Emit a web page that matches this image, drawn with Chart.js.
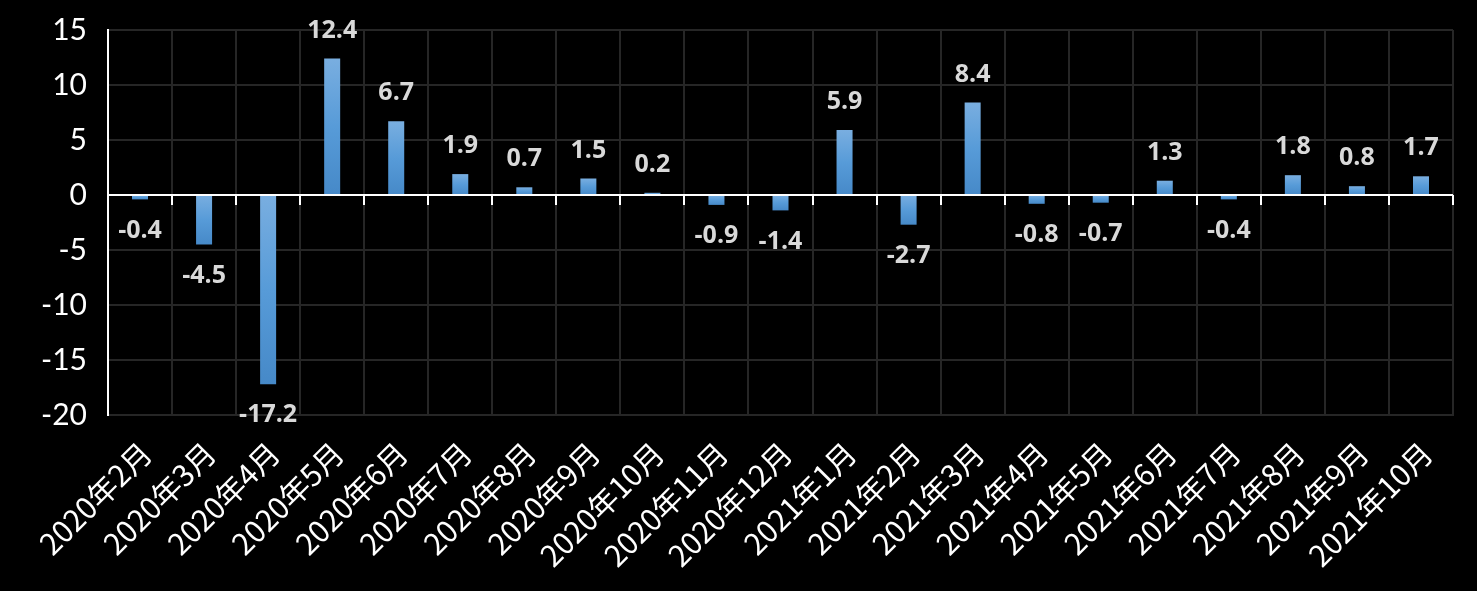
<!DOCTYPE html>
<html>
<head>
<meta charset="utf-8">
<script src="https://cdn.jsdelivr.net/npm/chart.js@4/dist/chart.umd.min.js"></script>
<style>
  html, body { margin: 0; padding: 0; background: #000; }
  #wrap { width: 1477px; height: 591px; position: relative; }
</style>
</head>
<body>
<div id="wrap"><canvas id="c"></canvas></div>
<script>
// month labels and month-on-month values
var months = ['2020年2月', '2020年3月', '2020年4月', '2020年5月', '2020年6月', '2020年7月', '2020年8月',
  '2020年9月', '2020年10月', '2020年11月', '2020年12月', '2021年1月', '2021年2月', '2021年3月',
  '2021年4月', '2021年5月', '2021年6月', '2021年7月', '2021年8月', '2021年9月', '2021年10月'];
var values = [-0.4, -4.5, -17.2, 12.4, 6.7, 1.9, 0.7, 1.5, 0.2, -0.9, -1.4, 5.9, -2.7, 8.4,
  -0.8, -0.7, 1.3, -0.4, 1.8, 0.8, 1.7];
var yMin = -20, yMax = 15, yStep = 5;

var gridCol = '#262626';

function barFill(ctx) {
  var chart = ctx.chart;
  if (!chart.chartArea) return '#5b9bd5';
  var y = chart.scales.y;
  var v = ctx.raw;
  var top = y.getPixelForValue(Math.max(v, 0));
  var bot = y.getPixelForValue(Math.min(v, 0));
  if (bot - top < 1) bot = top + 1;
  var g = chart.ctx.createLinearGradient(0, top, 0, bot);
  g.addColorStop(0, '#79aee0');
  g.addColorStop(0.5, '#579bd8');
  g.addColorStop(1, '#4689c8');
  return g;
}

// zero line with little tick marks, and the value labels
var overlay = {
  id: 'overlay',
  afterDatasetsDraw: function(chart) {
    var c = chart.ctx, y = chart.scales.y, area = chart.chartArea;
    var y0 = y.getPixelForValue(0);
    c.save();
    c.strokeStyle = '#ffffff';
    c.lineWidth = 2;
    c.beginPath();
    c.moveTo(area.left, y0);
    c.lineTo(area.right, y0);
    var step = (area.right - area.left) / months.length;
    for (var i = 1; i <= months.length; i++) {
      var px = Math.round(area.left + step * i);
      c.moveTo(px, y0);
      c.lineTo(px, y0 + 10);
    }
    c.stroke();

    c.fillStyle = '#d9d9d9';
    c.font = 'bold 25px "Open Sans", Lato, sans-serif';
    c.textAlign = 'center';
    c.textBaseline = 'middle';
    var meta = chart.getDatasetMeta(0);
    meta.data.forEach(function(bar, i) {
      var v = values[i];
      var ly = v >= 0 ? bar.y - 28 : bar.y + 31;
      c.fillText(v.toFixed(1), bar.x, ly);
    });
    c.restore();
  }
};

new Chart(document.getElementById('c'), {
  type: 'bar',
  data: {
    labels: months,
    datasets: [{
      data: values,
      backgroundColor: barFill,
      borderWidth: 0,
      categoryPercentage: 1,
      barPercentage: 0.25
    }]
  },
  plugins: [overlay],
  options: {
    responsive: true,
    maintainAspectRatio: false,
    animation: false,
    devicePixelRatio: 1,
    layout: { padding: { top: 30, right: 24, left: 0, bottom: 0 } },
    plugins: { legend: { display: false }, tooltip: { enabled: false } },
    scales: {
      x: {
        grid: { color: gridCol, lineWidth: 2, offset: true, drawTicks: false },
        border: { color: gridCol, width: 2 },
        ticks: {
          color: '#ffffff',
          font: { family: '"Noto Sans CJK SC", sans-serif', size: 30 },
          minRotation: 45, maxRotation: 45, padding: 20, labelOffset: 6, autoSkip: false
        },
        afterFit: function(s) { s.height = 176; }
      },
      y: {
        min: yMin, max: yMax,
        grid: { color: gridCol, lineWidth: 2, drawTicks: false },
        border: { color: '#ffffff', width: 2 },
        ticks: {
          stepSize: yStep, color: '#ffffff', padding: 21,
          font: { family: 'Lato, "Open Sans", sans-serif', size: 30 }
        },
        afterFit: function(s) { s.width = 108; s.paddingTop = 0; s.paddingBottom = 0; }
      }
    }
  }
});
</script>
</body>
</html>
